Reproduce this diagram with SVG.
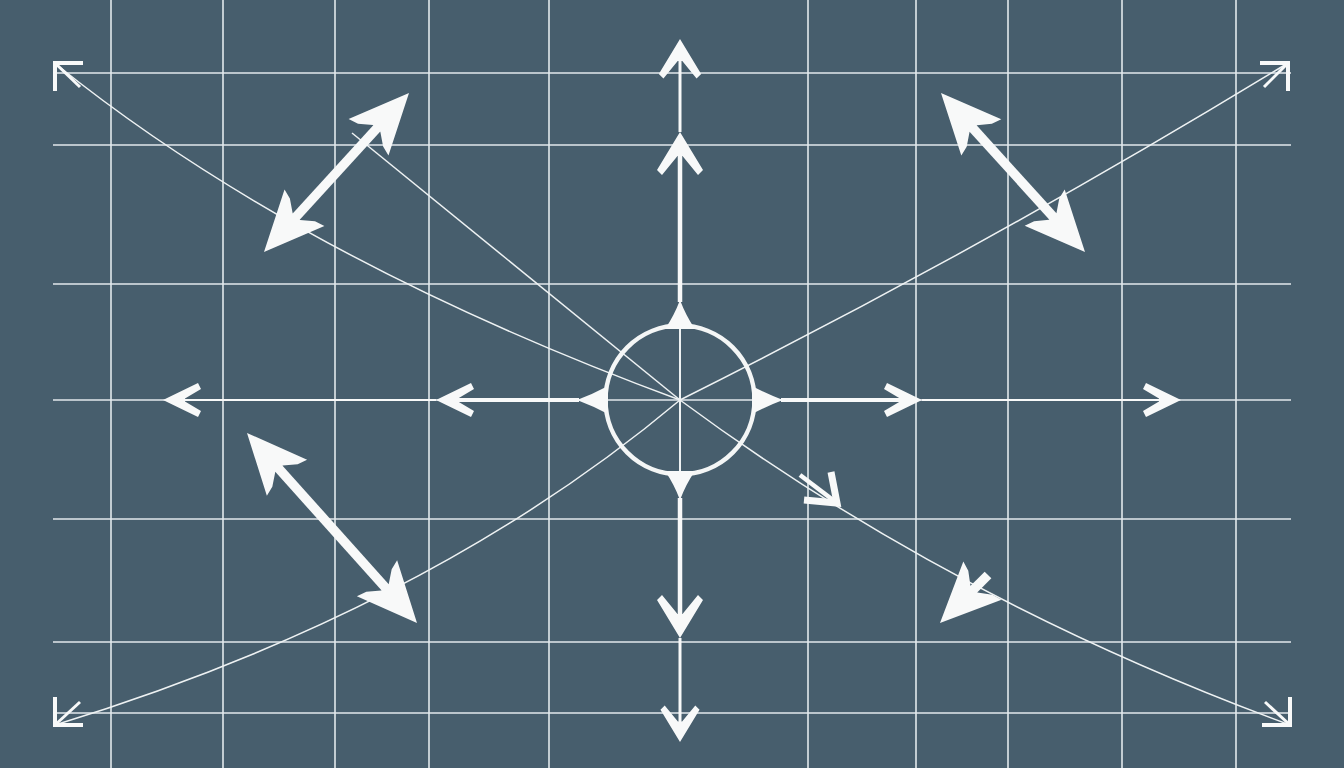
<svg xmlns="http://www.w3.org/2000/svg" width="1344" height="768" viewBox="0 0 1344 768">
  <defs>
    <style>
      .grid line { stroke: #e2e9ec; stroke-width: 1.6; }
      .thin { fill: none; stroke: #eef2f3; stroke-width: 1.5; }
      .shaft { stroke: #f8f9f9; fill: none; }
      .head { fill: #f8f9f9; }
      .corner { fill: none; stroke: #f8f9f9; stroke-width: 4; stroke-linejoin: miter; }
    </style>
    <path id="big" d="M0,0 L-60,-27 L-57,-17 L-48,-5 L-48,5 L-57,17 L-60,27 Z"/>
    <path id="med" d="M0,0 L-38,-23 L-43,-18 L-24,-2.5 L-24,2.5 L-43,18 L-38,23 Z"/>
    <path id="chev" d="M0,0 L-35,-17 L-38,-11 L-22,-1.5 L-22,1.5 L-38,11 L-35,17 Z"/>
  </defs>
  <rect width="1344" height="768" fill="#475e6d"/>

  <g id="grid" class="grid">
    <line x1="111" y1="0" x2="111" y2="768"/>
    <line x1="223" y1="0" x2="223" y2="768"/>
    <line x1="335" y1="0" x2="335" y2="768"/>
    <line x1="429" y1="0" x2="429" y2="768"/>
    <line x1="549" y1="0" x2="549" y2="768"/>
    <line x1="808" y1="0" x2="808" y2="768"/>
    <line x1="916" y1="0" x2="916" y2="768"/>
    <line x1="1008" y1="0" x2="1008" y2="768"/>
    <line x1="1122" y1="0" x2="1122" y2="768"/>
    <line x1="1236" y1="0" x2="1236" y2="768"/>
    <line x1="53" y1="73" x2="1291" y2="73"/>
    <line x1="53" y1="145" x2="1291" y2="145"/>
    <line x1="53" y1="284" x2="1291" y2="284"/>
    <line x1="53" y1="400" x2="1291" y2="400"/>
    <line x1="53" y1="519" x2="1291" y2="519"/>
    <line x1="53" y1="642" x2="1291" y2="642"/>
    <line x1="53" y1="713" x2="1291" y2="713"/>
  </g>

  <g id="connectors">
    <!-- thin diagonal curves -->
    <path class="thin" d="M57,65 Q300,260 680,400"/>
    <path class="thin" d="M352,133 L680,400"/>
    <path class="thin" d="M680,400 Q950,600 1290,725"/>
    <path class="thin" d="M680,400 Q990,245 1288,63"/>
    <path class="thin" d="M680,400 Q430,610 55,725"/>

    <!-- corner arrows -->
    <path class="corner" d="M83,63 L55,63 L55,91"/>
    <line class="shaft" x1="55" y1="63" x2="80" y2="87" stroke-width="3"/>
    <path class="corner" d="M1260,63 L1288,63 L1288,91"/>
    <line class="shaft" x1="1288" y1="63" x2="1264" y2="87" stroke-width="3"/>
    <path class="corner" d="M55,697 L55,725 L83,725"/>
    <line class="shaft" x1="55" y1="725" x2="80" y2="702" stroke-width="3"/>
    <path class="corner" d="M1290,697 L1290,725 L1262,725"/>
    <line class="shaft" x1="1290" y1="725" x2="1265" y2="702" stroke-width="3"/>

    <!-- vertical up -->
    <line class="shaft" x1="680" y1="302" x2="680" y2="150" stroke-width="4.5"/>
    <use href="#med" class="head" transform="translate(680,132) rotate(-90)"/>
    <line class="shaft" x1="680" y1="132" x2="680" y2="58" stroke-width="3"/>
    <use href="#med" class="head" transform="translate(680,39) rotate(-90) scale(0.92)"/>

    <!-- vertical down -->
    <line class="shaft" x1="680" y1="498" x2="680" y2="620" stroke-width="4.5"/>
    <use href="#med" class="head" transform="translate(680,638) rotate(90)"/>
    <line class="shaft" x1="680" y1="638" x2="680" y2="724" stroke-width="3"/>
    <use href="#med" class="head" transform="translate(680,742) rotate(90) scale(0.85)"/>

    <!-- horizontal left -->
    <line class="shaft" x1="579" y1="400" x2="456" y2="400" stroke-width="4"/>
    <use href="#chev" class="head" transform="translate(436,400) rotate(180)"/>
    <line class="shaft" x1="436" y1="400" x2="184" y2="400" stroke-width="2"/>
    <use href="#chev" class="head" transform="translate(163,400) rotate(180)"/>

    <!-- horizontal right -->
    <line class="shaft" x1="781" y1="400" x2="902" y2="400" stroke-width="4"/>
    <use href="#chev" class="head" transform="translate(922,400)"/>
    <line class="shaft" x1="922" y1="400" x2="1160" y2="400" stroke-width="2"/>
    <use href="#chev" class="head" transform="translate(1181,400)"/>

    <!-- big double arrows -->
    <line class="shaft" x1="289.6" y1="223.9" x2="383.4" y2="121.1" stroke-width="9.5"/>
    <use href="#big" class="head" transform="translate(409,93) rotate(-47.6)"/>
    <use href="#big" class="head" transform="translate(264,252) rotate(132.4)"/>

    <line class="shaft" x1="966.5" y1="121.2" x2="1059.5" y2="223.8" stroke-width="9.5"/>
    <use href="#big" class="head" transform="translate(1085,252) rotate(47.8)"/>
    <use href="#big" class="head" transform="translate(941,93) rotate(-132.2)"/>

    <line class="shaft" x1="272.3" y1="461.3" x2="391.7" y2="594.7" stroke-width="9.5"/>
    <use href="#big" class="head" transform="translate(417,623) rotate(48.2)"/>
    <use href="#big" class="head" transform="translate(247,433) rotate(-131.8)"/>

    <!-- single arrow lower right -->
    <line class="shaft" x1="988" y1="575" x2="966.9" y2="596.1" stroke-width="9.5"/>
    <use href="#big" class="head" transform="translate(940,623) rotate(135)"/>

    <!-- small arrow near circle -->
    <line class="shaft" x1="800" y1="475" x2="833" y2="500" stroke-width="4.5"/>
    <polyline class="shaft" points="831,472 837,503 804,500" stroke-width="7" stroke-linejoin="miter"/>
  </g>

  <g id="compass">
    <circle cx="680" cy="400" r="74.5" fill="none" stroke="#f4f6f6" stroke-width="4.5"/>
    <line x1="680" y1="326" x2="680" y2="474" stroke="#eef2f3" stroke-width="2"/>
    <path class="head" d="M680,300 Q686,316 695,329 L665,329 Q674,316 680,300 Z"/>
    <path class="head" d="M680,500 Q686,484 695,471 L665,471 Q674,484 680,500 Z"/>
    <path class="head" d="M577,400 Q593,394 608,386 L608,414 Q593,406 577,400 Z"/>
    <path class="head" d="M783,400 Q767,394 752,386 L752,414 Q767,406 783,400 Z"/>
  </g>
</svg>
